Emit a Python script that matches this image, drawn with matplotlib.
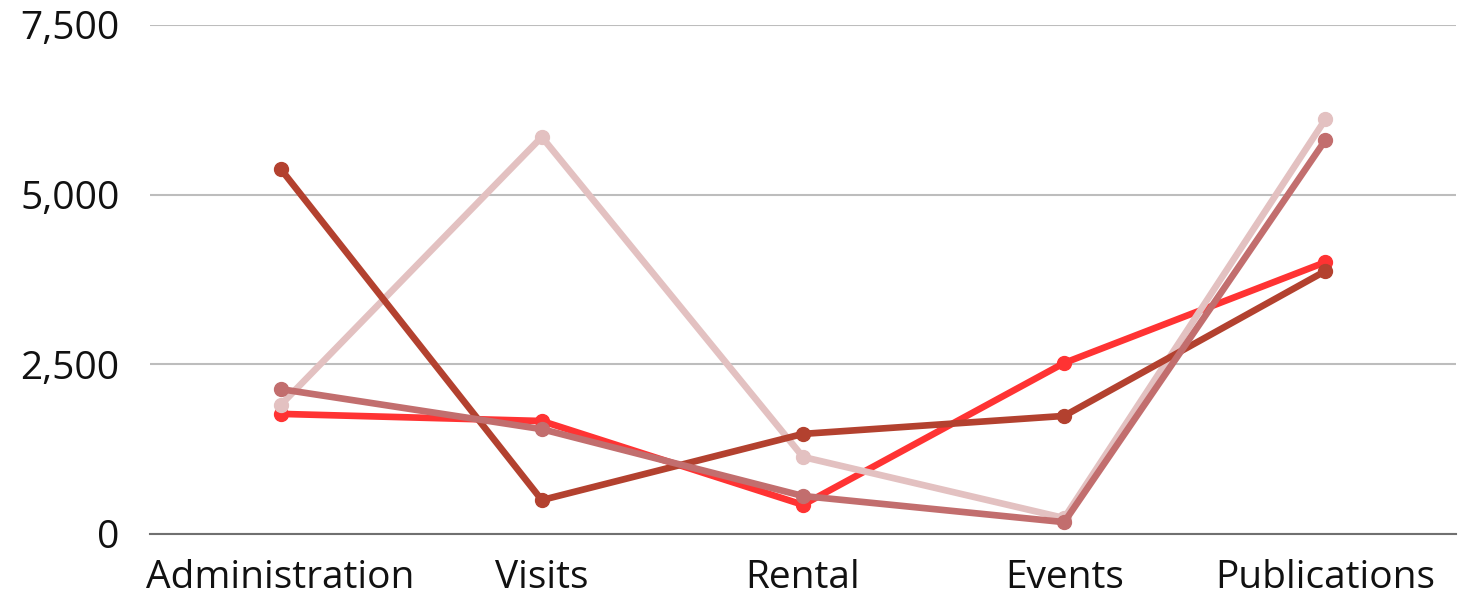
import matplotlib.pyplot as plt
from matplotlib.ticker import FuncFormatter

categorias = ["Administration", "Visits", "Rental", "Events", "Publications"]
serie_vermelha = [1770, 1665, 430, 2520, 4005]
serie_escura = [5380, 500, 1475, 1740, 3875]
serie_clara = [1900, 5850, 1135, 235, 6110]
serie_media = [2135, 1545, 560, 175, 5805]

plt.rcParams['font.family'] = ['Open Sans', 'DejaVu Sans']

fig = plt.figure(figsize=(14.62, 6.0), dpi=100)
ax = fig.add_axes([150 / 1462, 66 / 600, 1306 / 1462, 509 / 600])

x = range(len(categorias))
ax.plot(x, serie_vermelha, color="#FF3333", lw=4.8, marker="o", ms=10, zorder=3)
ax.plot(x, serie_clara, color="#E3C1C1", lw=4.8, marker="o", ms=10, zorder=3)
ax.plot(x, serie_escura, color="#B3412F", lw=4.8, marker="o", ms=10, zorder=3)
ax.plot(x, serie_media, color="#C26E6E", lw=4.8, marker="o", ms=10, zorder=3)

ax.set_xlim(-0.5, 4.5)
ax.set_ylim(0, 7500)
ax.set_yticks([0, 2500, 5000, 7500])
ax.yaxis.set_major_formatter(FuncFormatter(lambda v, p: f"{int(v):,}"))
ax.set_xticks(list(x))
ax.set_xticklabels(categorias)
ax.grid(axis="y", color="#BDBDBD", lw=1.5, zorder=0)
for s in ["top", "right", "left"]:
    ax.spines[s].set_visible(False)
ax.spines["bottom"].set_color("#707070")
ax.spines["bottom"].set_linewidth(1.5)
ax.tick_params(axis="both", length=0, labelsize=28, colors="#111111")
ax.tick_params(axis="y", pad=22)
ax.tick_params(axis="x", pad=18)

fig.savefig("out.png", dpi=100)
